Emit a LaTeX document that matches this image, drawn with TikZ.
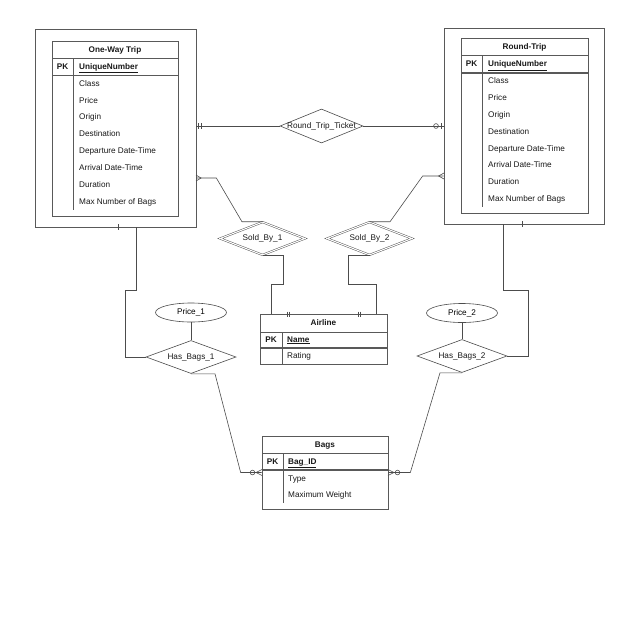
\documentclass[tikz,border=0pt]{standalone}
\usepackage{fontspec}
\setmainfont{Liberation Sans}
\usetikzlibrary{shapes.geometric}
\begin{document}
\begin{tikzpicture}[x=1pt,y=-1pt,
  font=\fontsize{8.2}{9.5}\selectfont,
  ln/.style={draw=black!70, line width=0.6pt},
  tb/.style={draw=black!65, line width=0.6pt},
  pkline/.style={draw=black!65, line width=1.1pt},
  box/.style={draw=black!65, line width=0.7pt, inner sep=0pt},
  txt/.style={inner sep=0pt, text height=6pt, text depth=1.6pt, text=black!90},
  attr/.style={txt, anchor=west},
  hdr/.style={txt, font=\fontsize{8.2}{9.5}\selectfont\bfseries},
  rel/.style={diamond, draw=black!70, line width=0.6pt, inner sep=0pt},
  wrel/.style={diamond, draw=black!70, line width=0.45pt, double, double distance=1.1pt, inner sep=0pt},
  att/.style={ellipse, draw=black!70, line width=0.6pt, inner sep=0pt, minimum width=71pt, minimum height=19pt}]
\useasboundingbox (0,0) rectangle (640,640);
\fill[white] (0,0) rectangle (640,640);

% ---------- One-Way Trip ----------
\node[box, minimum width=161pt, minimum height=198pt] (ow) at (115.5,128) {};
\draw[tb] (52,41) rectangle (178,216);
\draw[tb] (52,58) -- (178,58);
\draw[pkline] (52,75.5) -- (178,75.5);
\draw[tb] (73,58) -- (73,210);
\node[hdr] (owh) at (115,50) {One-Way Trip};
\node[hdr] (owpk) at (62.5,67) {PK};
\node[attr, font=\fontsize{8.2}{9.5}\selectfont\bfseries] (owk) at (79,67) {\underline{UniqueNumber}};
\node[attr] (ow1) at (79,84) {Class};
\node[attr] (ow2) at (79,100.9) {Price};
\node[attr] (ow3) at (79,117.7) {Origin};
\node[attr] (ow4) at (79,134.6) {Destination};
\node[attr] (ow5) at (79,151.4) {Departure Date-Time};
\node[attr] (ow6) at (79,168.3) {Arrival Date-Time};
\node[attr] (ow7) at (79,185.1) {Duration};
\node[attr] (ow8) at (79,202) {Max Number of Bags};

% ---------- Round-Trip ----------
\node[box, minimum width=160pt, minimum height=196pt] (rt) at (524,126) {};
\draw[tb] (461,38) rectangle (588,213);
\draw[tb] (461,55.5) -- (588,55.5);
\draw[pkline] (461,73) -- (588,73);
\draw[tb] (482,55.5) -- (482,207);
\node[hdr] (rth) at (524.5,47.5) {Round-Trip};
\node[hdr] (rtpk) at (471.5,64.5) {PK};
\node[attr, font=\fontsize{8.2}{9.5}\selectfont\bfseries] (rtk) at (488,64.5) {\underline{UniqueNumber}};
\node[attr] (rt1) at (488,81.5) {Class};
\node[attr] (rt2) at (488,98.3) {Price};
\node[attr] (rt3) at (488,115.1) {Origin};
\node[attr] (rt4) at (488,132) {Destination};
\node[attr] (rt5) at (488,148.8) {Departure Date-Time};
\node[attr] (rt6) at (488,165.6) {Arrival Date-Time};
\node[attr] (rt7) at (488,182.4) {Duration};
\node[attr] (rt8) at (488,199.2) {Max Number of Bags};

% ---------- Airline ----------
\node[box, minimum width=127pt, minimum height=50pt] (air) at (323.5,339) {};
\draw[tb] (260,332) -- (387,332);
\draw[pkline] (260,348) -- (387,348);
\draw[tb] (282,332) -- (282,364);
\node[hdr] (airh) at (323.5,323) {Airline};
\node[hdr] (airpk) at (271,340) {PK};
\node[attr, font=\fontsize{8.2}{9.5}\selectfont\bfseries] (airk) at (287,340) {\underline{Name}};
\node[attr] (air1) at (287,356.5) {Rating};

% ---------- Bags ----------
\node[box, minimum width=126pt, minimum height=73pt] (bags) at (325,472.5) {};
\draw[tb] (262,453) -- (388,453);
\draw[pkline] (262,470) -- (388,470);
\draw[tb] (283,453) -- (283,503);
\node[hdr] (bagsh) at (325,445) {Bags};
\node[hdr] (bagspk) at (272.5,462) {PK};
\node[attr, font=\fontsize{8.2}{9.5}\selectfont\bfseries] (bagsk) at (288,462) {\underline{Bag\_ID}};
\node[attr] (bags1) at (288,479) {Type};
\node[attr] (bags2) at (288,495.5) {Maximum Weight};

% ---------- Relationships ----------
\node[rel, minimum width=83pt, minimum height=34pt] (rtt) at (321.5,126) {};
\node[txt] (rttl) at (rtt) {Round\_Trip\_Ticket};
\node[wrel, minimum width=85pt, minimum height=33pt] (sb1) at (262.5,238.5) {};
\node[txt] (sb1l) at (sb1) {Sold\_By\_1};
\node[wrel, minimum width=85pt, minimum height=33pt] (sb2) at (369.5,238.5) {};
\node[txt] (sb2l) at (sb2) {Sold\_By\_2};
\node[rel, minimum width=90pt, minimum height=33pt] (hb1) at (191,357) {};
\node[txt] (hb1l) at (hb1) {Has\_Bags\_1};
\node[rel, minimum width=90pt, minimum height=33pt] (hb2) at (462,356) {};
\node[txt] (hb2l) at (hb2) {Has\_Bags\_2};
\node[att] (p1) at (191,312.5) {Price\_1};
\node[att] (p2) at (462,313) {Price\_2};

% ---------- Connectors ----------
\draw[ln] (ow.east |- rtt.west) -- (rtt.west);
\draw[ln] (rtt.east) -- (rt.west |- rtt.east);
\draw[ln] ([yshift=-50pt]ow.east) -- ++(20,0) -- ([xshift=-20.5pt]sb1.north) -- (sb1.north);
\draw[ln] ([yshift=-50pt]rt.west) -- ++(-21,0) -- ([xshift=20.5pt]sb2.north) -- (sb2.north);
\draw[ln] (sb1.south) -- ++(20.5,0) -- ++(0,29) -- ++(-12,0) -- ([xshift=-52.5pt]air.north);
\draw[ln] (sb2.south) -- ++(-21.5,0) -- ++(0,29) -- ++(28,0) -- ([xshift=52.5pt]air.north);
\draw[ln] ([xshift=20.5pt]ow.south) -- ++(0,63) -- ++(-11,0) |- (hb1.west);
\draw[ln] ([xshift=-21pt]rt.south) -- ++(0,66) -- ++(25,0) |- (hb2.east);
\draw[ln] (p1) -- (hb1);
\draw[ln] (p2) -- (hb2);
\draw[ln] (hb1.south) -- ++(24,0) -- ([xshift=-21pt]bags.west) -- (bags.west);
\draw[ln] (hb2.south) -- ++(-22,0) -- ([xshift=22pt]bags.east) -- (bags.east);

% ---------- Cardinality marks ----------
% one-and-only-one at One-Way (Round_Trip_Ticket)
\draw[ln] (198.5,123) -- (198.5,129) (201,123) -- (201,129);
% zero-or-one at Round-Trip (Round_Trip_Ticket)
\draw[ln] (436,126) circle (2.4pt);
\draw[ln] (441,123) -- (441,129);
% many at One-Way (Sold_By_1)
\draw[ln] (196,175) -- (201,178) -- (196,181);
% many at Round-Trip (Sold_By_2)
\draw[ln] (444,173) -- (438.5,176) -- (444,179);
% one-and-only-one at Airline
\draw[ln] (287,311.5) -- (287,316.5) (289.5,311.5) -- (289.5,316.5);
\draw[ln] (358,311.5) -- (358,316.5) (360.5,311.5) -- (360.5,316.5);
% one at One-Way bottom and Round-Trip bottom
\draw[ln] (118,224) -- (118,230);
\draw[ln] (522,221) -- (522,227);
% zero-or-many at Bags
\draw[ln] (252.5,472.5) circle (2.3pt);
\draw[ln] (262,469.5) -- (256,472.5) -- (262,475.5);
\draw[ln] (397.5,472.5) circle (2.3pt);
\draw[ln] (388,469.5) -- (394,472.5) -- (388,475.5);
\end{tikzpicture}
\end{document}
